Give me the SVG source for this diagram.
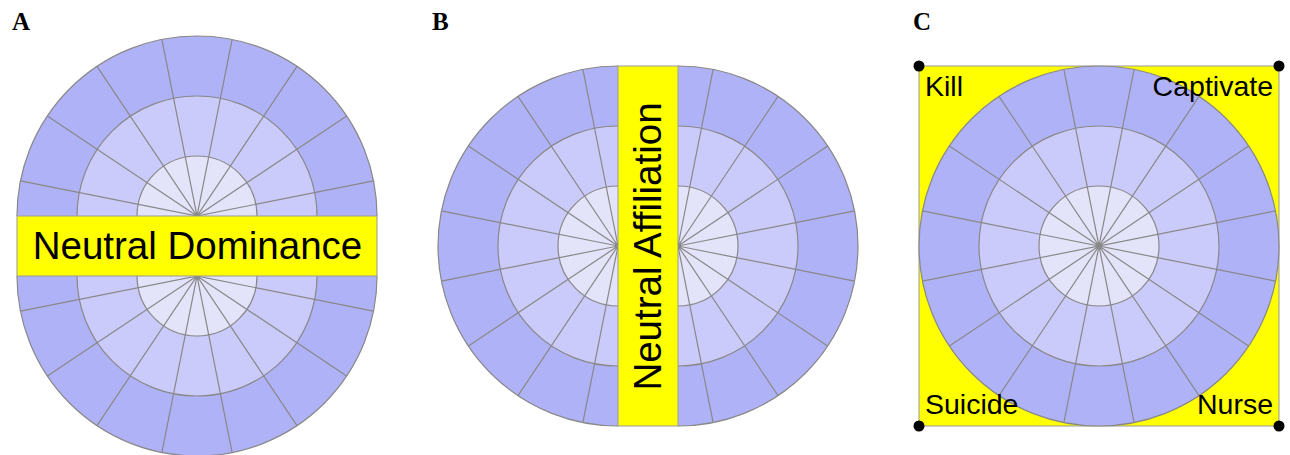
<svg xmlns="http://www.w3.org/2000/svg" xmlns:xlink="http://www.w3.org/1999/xlink" width="1290" height="455" viewBox="0 0 1290 455">
  <style>
    .outer { fill: #b0b2f8; stroke: #888888; stroke-width: 1.2; }
    .mid { fill: #cbcbfb; stroke: #888888; stroke-width: 1.2; }
    .inner { fill: #e3e3fa; stroke: #888888; stroke-width: 1.2; }
    .spoke { fill: none; stroke: #888888; stroke-width: 1.2; }
    .band { fill: #ffff00; stroke: #999999; stroke-width: 1; }
    .label { font-family: "Liberation Sans", Arial, sans-serif; fill: #000000; }
    .big { font-size: 38.5px; }
    .corner { font-size: 28.5px; }
    .panel { font-family: "Liberation Serif", "Times New Roman", serif; font-weight: bold; font-size: 25px; fill: #000000; }
    .dot { fill: #000000; }
  </style>
  <defs>
    <g id="wheel">
      <circle class="outer" cx="0" cy="0" r="180"/>
      <circle class="mid" cx="0" cy="0" r="120"/>
      <circle class="inner" cx="0" cy="0" r="60"/>
      <path class="spoke" d="M-176.54,-35.12L176.54,35.12 M-149.66,-100L149.66,100 M-100,-149.66L100,149.66 M-35.12,-176.54L35.12,176.54 M35.12,-176.54L-35.12,176.54 M100,-149.66L-100,149.66 M149.66,-100L-149.66,100 M176.54,-35.12L-176.54,35.12"/>
    </g>
    <clipPath id="clipAtop" clipPathUnits="userSpaceOnUse"><rect x="0" y="0" width="420" height="216"/></clipPath>
    <clipPath id="clipAbot" clipPathUnits="userSpaceOnUse"><rect x="0" y="276" width="420" height="200"/></clipPath>
    <clipPath id="clipBleft" clipPathUnits="userSpaceOnUse"><rect x="420" y="0" width="198" height="455"/></clipPath>
    <clipPath id="clipBright" clipPathUnits="userSpaceOnUse"><rect x="678" y="0" width="210" height="455"/></clipPath>
  </defs>

  <g id="panelA">
    <text class="panel" x="12" y="30">A</text>
    <g clip-path="url(#clipAtop)"><use xlink:href="#wheel" transform="translate(197,216)"/></g>
    <g clip-path="url(#clipAbot)"><use xlink:href="#wheel" transform="translate(197,276)"/></g>
    <rect class="band" x="17" y="216" width="360" height="60"/>
    <text class="label big" x="197.5" y="258.5" text-anchor="middle">Neutral Dominance</text>
  </g>

  <g id="panelB">
    <text class="panel" x="432" y="30">B</text>
    <g clip-path="url(#clipBleft)"><use xlink:href="#wheel" transform="translate(618,246)"/></g>
    <g clip-path="url(#clipBright)"><use xlink:href="#wheel" transform="translate(678,246)"/></g>
    <rect class="band" x="618" y="66" width="60" height="360"/>
    <text class="label big" x="661" y="246.5" text-anchor="middle" transform="rotate(-90 661 246.5)">Neutral Affiliation</text>
  </g>

  <g id="panelC">
    <text class="panel" x="913" y="30">C</text>
    <rect class="band" x="919" y="66" width="360" height="360"/>
    <use xlink:href="#wheel" transform="translate(1099,246)"/>
    <circle class="dot" cx="919" cy="66" r="5.5"/>
    <circle class="dot" cx="1279" cy="66" r="5.5"/>
    <circle class="dot" cx="919" cy="426" r="5.5"/>
    <circle class="dot" cx="1279" cy="426" r="5.5"/>
    <text class="label corner" x="925" y="96">Kill</text>
    <text class="label corner" x="1273" y="96" text-anchor="end">Captivate</text>
    <text class="label corner" x="925" y="414">Suicide</text>
    <text class="label corner" x="1273" y="414" text-anchor="end">Nurse</text>
  </g>
</svg>
